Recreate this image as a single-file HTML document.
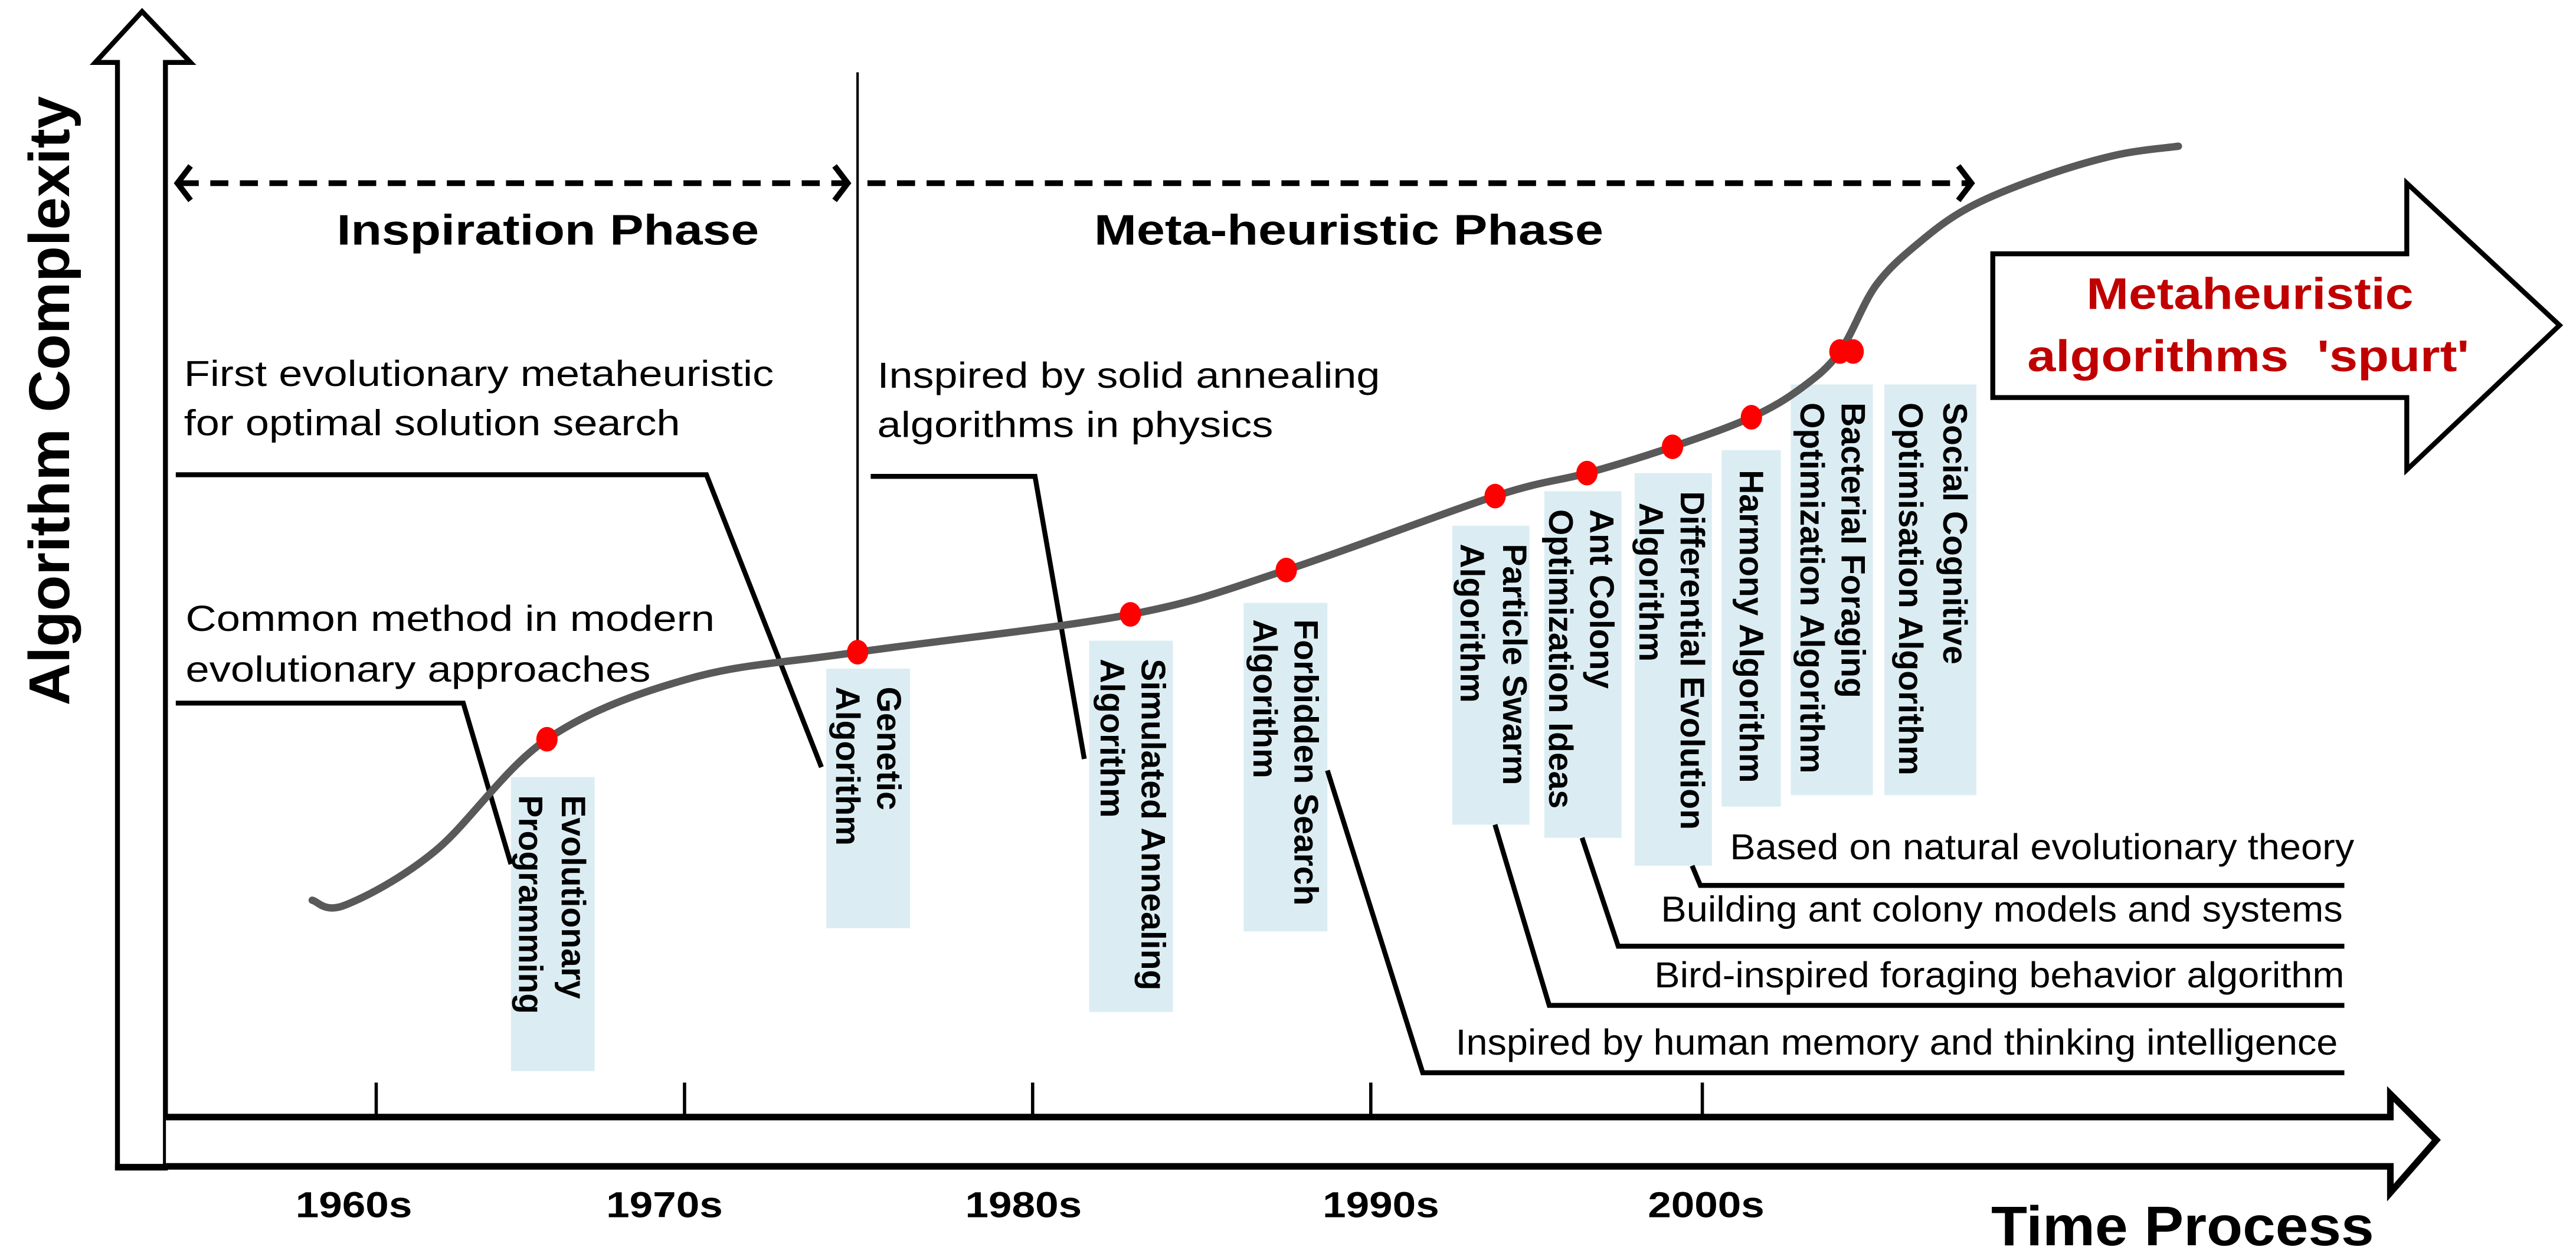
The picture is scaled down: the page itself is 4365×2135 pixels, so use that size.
<!DOCTYPE html>
<html><head><meta charset="utf-8">
<style>
html,body{margin:0;padding:0;background:#fff;}
svg{display:block;}
.n{font-family:"Liberation Sans Narrow","Liberation Sans",sans-serif;font-size:22px;fill:#000;}
.b{font-family:"Liberation Sans Narrow","Liberation Sans",sans-serif;font-weight:bold;fill:#000;}
.r{font-family:"Liberation Sans",sans-serif;font-weight:bold;font-size:20.5px;fill:#000;}
</style></head>
<body>
<svg id="chart" width="4365" height="2135" viewBox="0 0 1568 767" preserveAspectRatio="none" xmlns="http://www.w3.org/2000/svg">
<rect width="1568" height="767" fill="#fff"/>

<path d="M71.5,711 L71.5,38 L58,38 L86.5,7 L116,38 L100.7,38 L100.7,711 Z" fill="#fff" stroke="#000" stroke-width="3"/>
<line x1="70" y1="710.5" x2="101" y2="710.5" stroke="#000" stroke-width="4"/>
<path d="M101,680 L1455,680 L1455,666 L1483,694 L1455,726 L1455,710 L101,710" fill="#fff" stroke="#000" stroke-width="4"/>

<text transform="translate(42,244) rotate(-90)" text-anchor="middle" font-family="Liberation Sans, sans-serif" font-weight="bold" font-size="35" textLength="371" lengthAdjust="spacingAndGlyphs">Algorithm Complexity</text>
<text class="b" x="1212" y="758" font-size="34" textLength="233" lengthAdjust="spacingAndGlyphs">Time Process</text>

<g id="ticks"></g>

<g stroke="#000" stroke-width="3.5" fill="none">
<line x1="110" y1="111.5" x2="514" y2="111.5" stroke-dasharray="11,7"/>
<polyline points="116,101 108,111.5 116,122"/>
<polyline points="508,101 516,111.5 508,122"/>
</g>
<g stroke="#000" stroke-width="3.5" fill="none">
<line x1="528" y1="111.5" x2="1198" y2="111.5" stroke-dasharray="11,7"/>
<polyline points="1192,101 1200,111.5 1192,122"/>
</g>
<line x1="522" y1="44" x2="522" y2="399" stroke="#000" stroke-width="1.5"/>
<text class="b" x="205" y="149" font-size="26" textLength="257" lengthAdjust="spacingAndGlyphs">Inspiration Phase</text>
<text class="b" x="666" y="149" font-size="26" textLength="310" lengthAdjust="spacingAndGlyphs">Meta-heuristic Phase</text>

<path d="M1213,154.5 L1465,154.5 L1465,111.5 L1558,198 L1465,286 L1465,242 L1213,242 Z" fill="#fff" stroke="#000" stroke-width="3"/>
<text x="1270" y="188" font-family="Liberation Sans Narrow, Liberation Sans, sans-serif" font-weight="bold" font-size="27" fill="#c00000" textLength="199" lengthAdjust="spacingAndGlyphs">Metaheuristic</text>
<text x="1234" y="226" font-family="Liberation Sans Narrow, Liberation Sans, sans-serif" font-weight="bold" font-size="27" fill="#c00000" textLength="269" lengthAdjust="spacingAndGlyphs" xml:space="preserve">algorithms  'spurt'</text>

<g fill="#dbedf3">
<rect x="311" y="473" width="51" height="179"/>
<rect x="503" y="407" width="51" height="158"/>
<rect x="663" y="390" width="51" height="226"/>
<rect x="757" y="367" width="51" height="200"/>
<rect x="884" y="320" width="47" height="182"/>
<rect x="940" y="299" width="47" height="211"/>
<rect x="995" y="288" width="47" height="239"/>
<rect x="1048" y="274" width="36" height="217"/>
<rect x="1090" y="234" width="50" height="250"/>
<rect x="1147" y="234" width="56" height="250"/>
</g>
<g>
<text class="r" transform="translate(342,484) rotate(90)">Evolutionary</text>
<text class="r" transform="translate(316,484) rotate(90)">Programming</text>
<text class="r" transform="translate(534,418) rotate(90)">Genetic</text>
<text class="r" transform="translate(509,418) rotate(90)">Algorithm</text>
<text class="r" transform="translate(695,401) rotate(90)">Simulated Annealing</text>
<text class="r" transform="translate(670,401) rotate(90)">Algorithm</text>
<text class="r" transform="translate(788,377) rotate(90)">Forbidden Search</text>
<text class="r" transform="translate(763,377) rotate(90)">Algorithm</text>
<text class="r" transform="translate(915,331) rotate(90)">Particle Swarm</text>
<text class="r" transform="translate(889,331) rotate(90)">Algorithm</text>
<text class="r" transform="translate(968,310) rotate(90)">Ant Colony</text>
<text class="r" transform="translate(943,310) rotate(90)">Optimization Ideas</text>
<text class="r" transform="translate(1023,299) rotate(90)">Differential Evolution</text>
<text class="r" transform="translate(998,306) rotate(90)">Algorithm</text>
<text class="r" transform="translate(1059,286) rotate(90)">Harmony Algorithm</text>
<text class="r" transform="translate(1121,245) rotate(90)">Bacterial Foraging</text>
<text class="r" transform="translate(1096,245) rotate(90)">Optimization Algorithm</text>
<text class="r" transform="translate(1183,245) rotate(90)">Social Cognitive</text>
<text class="r" transform="translate(1156,245) rotate(90)">Optimisation Algorithm</text>
</g>

<g stroke="#000" stroke-width="3" fill="none">
<polyline points="107,428 282,428 311,526"/>
<polyline points="107,289 430,289 500,467"/>
<polyline points="530,290 630,290 660,462"/>
<polyline points="1030,527 1035,539 1427,539"/>
<polyline points="963,510 985,576 1427,576"/>
<polyline points="910,502 943,612 1427,612"/>
<polyline points="808,469 866,653 1427,653"/>
</g>
<text class="n"><tspan x="113" y="384" textLength="322" lengthAdjust="spacingAndGlyphs">Common method in modern</tspan><tspan x="113" y="415" textLength="283" lengthAdjust="spacingAndGlyphs">evolutionary approaches</tspan></text>
<text class="n"><tspan x="112" y="235" textLength="359" lengthAdjust="spacingAndGlyphs">First evolutionary metaheuristic</tspan><tspan x="112" y="265" textLength="302" lengthAdjust="spacingAndGlyphs">for optimal solution search</tspan></text>
<text class="n"><tspan x="534" y="236" textLength="306" lengthAdjust="spacingAndGlyphs">Inspired by solid annealing</tspan><tspan x="534" y="266" textLength="241" lengthAdjust="spacingAndGlyphs">algorithms in physics</tspan></text>
<text class="n" x="1053" y="523" textLength="380" lengthAdjust="spacingAndGlyphs">Based on natural evolutionary theory</text>
<text class="n" x="1011" y="561" textLength="415" lengthAdjust="spacingAndGlyphs">Building ant colony models and systems</text>
<text class="n" x="1007" y="601" textLength="420" lengthAdjust="spacingAndGlyphs">Bird-inspired foraging behavior algorithm</text>
<text class="n" x="886" y="642" textLength="537" lengthAdjust="spacingAndGlyphs">Inspired by human memory and thinking intelligence</text>

<g id="series"></g>
</svg>
<script>
// ---- data ----
const tickYears = [1960, 1969.3, 1979.8, 1990, 2000];
const labelYears = [1959.3, 1968.67, 1979.5, 1990.28, 2000.09];
const tickLabels = ["1960s", "1970s", "1980s", "1990s", "2000s"];
const curveYears = [1958.07, 1959.06, 1961.78, 1965.15, 1969.46, 1974.52, 1982.75, 1987.45, 1993.75, 1996.52, 1999.1, 2001.48, 2003.0, 2004.15, 2005.24, 2006.58, 2008.07, 2010.2, 2012.48, 2014.36];
const curveValues = [33, 32.25, 40.5, 57.5, 66.75, 70.75, 76.5, 83.25, 94.5, 98, 102, 106.5, 111, 116.5, 126.6, 133.25, 138.5, 143, 146.4, 147.75];
const dotYears = [1965.15, 1974.52, 1982.75, 1987.45, 1993.75, 1996.52, 1999.1, 2001.48, 2004.15, 2004.55];
const dotValues = [57.5, 70.75, 76.5, 83.25, 94.5, 98, 102, 106.5, 116.5, 116.5];
const dotNames = ["evolutionary-programming","genetic-algorithm","simulated-annealing","forbidden-search","particle-swarm","ant-colony","differential-evolution","harmony","bacterial-foraging","social-cognitive"];

// ---- scales ----
function xScale(yr){ return 229 + (yr - 1960) * 20.18; }
function yScale(v){ return 680 - v * 4; }

const NS = "http://www.w3.org/2000/svg";
const ticksG = document.getElementById("ticks");
tickYears.forEach(function(t, i){
  const x = xScale(t);
  const ln = document.createElementNS(NS, "line");
  
  
  ln.setAttribute("x1", x); ln.setAttribute("x2", x);
  ln.setAttribute("y1", 659); ln.setAttribute("y2", 680);
  ln.setAttribute("stroke", "#000"); ln.setAttribute("stroke-width", "2");
  ticksG.appendChild(ln);
  const tx = document.createElementNS(NS, "text");
  
  
  tx.setAttribute("class", "b");
  tx.setAttribute("x", xScale(labelYears[i]) - 35);
  tx.setAttribute("y", 741);
  tx.setAttribute("font-size", "22");
  tx.setAttribute("textLength", "71");
  tx.setAttribute("lengthAdjust", "spacingAndGlyphs");
  tx.textContent = tickLabels[i];
  ticksG.appendChild(tx);
});

const pts = curveYears.map(function(yr, i){ return [xScale(yr), yScale(curveValues[i])]; });
let d = "M" + pts[0][0] + "," + pts[0][1];
for (let i = 0; i < pts.length - 1; i++) {
  const p0 = pts[Math.max(0, i - 1)], p1 = pts[i], p2 = pts[i + 1], p3 = pts[Math.min(pts.length - 1, i + 2)];
  const c1x = p1[0] + (p2[0] - p0[0]) / 6, c1y = p1[1] + (p2[1] - p0[1]) / 6;
  const c2x = p2[0] - (p3[0] - p1[0]) / 6, c2y = p2[1] - (p3[1] - p1[1]) / 6;
  d += " C" + c1x + "," + c1y + " " + c2x + "," + c2y + " " + p2[0] + "," + p2[1];
}
const seriesG = document.getElementById("series");
const path = document.createElementNS(NS, "path");


path.setAttribute("d", d);
path.setAttribute("fill", "none");
path.setAttribute("stroke", "#595959");
path.setAttribute("stroke-width", "4.5");
path.setAttribute("stroke-linecap", "round");
seriesG.appendChild(path);

dotYears.forEach(function(yr, i){
  const c = document.createElementNS(NS, "ellipse");
  
  
  c.setAttribute("cx", xScale(yr));
  c.setAttribute("cy", yScale(dotValues[i]));
  c.setAttribute("rx", 6.5);
  c.setAttribute("ry", 7.5);
  c.setAttribute("fill", "#ff0000");
  seriesG.appendChild(c);
});
</script>
</body></html>
